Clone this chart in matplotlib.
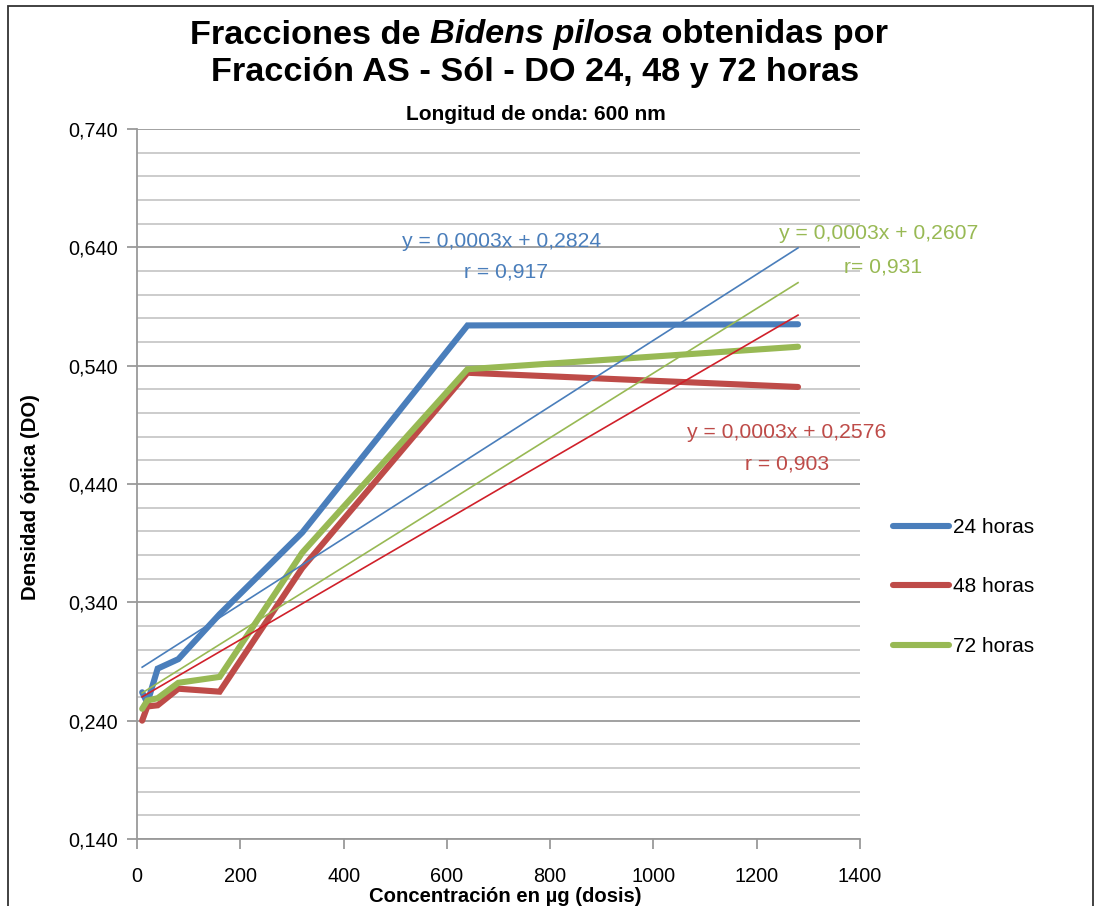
import matplotlib
matplotlib.use("Agg")
import matplotlib.pyplot as plt
import numpy as np
from matplotlib.patches import Rectangle

plt.rcParams['font.family'] = ['Liberation Sans', 'DejaVu Sans']

# ---- data ----
dosis = [10, 20, 40, 80, 160, 320, 640, 1280]
do_24 = [0.264, 0.255, 0.284, 0.292, 0.330, 0.399, 0.574, 0.575]
do_48 = [0.240, 0.252, 0.253, 0.267, 0.2645, 0.369, 0.534, 0.522]
do_72 = [0.250, 0.257, 0.259, 0.272, 0.277, 0.382, 0.537, 0.556]
series_labels = ['24 horas', '48 horas', '72 horas']
trend_intercepts = [0.2824, 0.2576, 0.2607]
trend_slopes = [0.000279, 0.000254, 0.000273]
eq_texts = ['y = 0,0003x + 0,2824', 'y = 0,0003x + 0,2576', 'y = 0,0003x + 0,2607']
r_texts = ['r = 0,917', 'r = 0,903', 'r= 0,931']
x_ticks = [0, 200, 400, 600, 800, 1000, 1200, 1400]
y_ticks = [0.140, 0.240, 0.340, 0.440, 0.540, 0.640, 0.740]
y_tick_labels = ['0,140', '0,240', '0,340', '0,440', '0,540', '0,640', '0,740']

line_colors = ['#4A7EBB', '#BE4B48', '#98B954']
trend_colors = ['#4A7EBB', '#D0202A', '#98B954']

W, H = 1097, 906
fig = plt.figure(figsize=(W / 100, H / 100), dpi=100)
ax = fig.add_axes([137 / W, 1 - 839 / H, (860 - 137) / W, (839 - 129) / H])

# gridlines
for v in np.arange(0.14, 0.7401, 0.02):
    major = abs(((v - 0.14) / 0.1) - round((v - 0.14) / 0.1)) < 1e-6
    ax.axhline(v, color='#9A9A9A' if major else '#C8C8C8', lw=1.3, zorder=0)

# trendlines
xt = np.array([dosis[0], dosis[-1]])
for b, m, c in zip(trend_intercepts, trend_slopes, trend_colors):
    ax.plot(xt, b + m * xt, color=c, lw=1.2, zorder=3)

# data lines
for ys, c, lab in zip([do_24, do_48, do_72], line_colors, series_labels):
    ax.plot(dosis, ys, color=c, lw=4.4, solid_capstyle='round',
            solid_joinstyle='miter', label=lab, zorder=2)

ax.set_xlim(0, 1400)
ax.set_ylim(0.14, 0.74)
ax.set_xticks(x_ticks)
ax.set_xticklabels([str(t) for t in x_ticks])
ax.set_yticks(y_ticks)
ax.set_yticklabels(y_tick_labels)
for s in ['top', 'right']:
    ax.spines[s].set_visible(False)
for s in ['left', 'bottom']:
    ax.spines[s].set_color('#9A9A9A')
    ax.spines[s].set_linewidth(1.3)
ax.tick_params(axis='both', direction='out', length=7, width=1.3,
               color='#9A9A9A', labelsize=14.3, labelcolor='black')
ax.tick_params(axis='x', pad=13)
ax.tick_params(axis='y', pad=7)

# equations
eq_pos = [(705, 0.6453), (1258, 0.4839), (1437, 0.6513)]
r_pos = [(714, 0.6191), (1258, 0.4568), (1445, 0.6233)]
for t, r, (ex, ey), (rx, ry), c in zip(eq_texts, r_texts, eq_pos, r_pos, line_colors):
    ax.text(ex, ey, t, color=c, fontsize=15.2, ha='center', va='center', clip_on=False)
    ax.text(rx, ry, r, color=c, fontsize=15.2, ha='center', va='center', clip_on=False)

ax.set_xlabel('Concentración en µg (dosis)', fontsize=14.6, fontweight='bold')
ax.xaxis.set_label_coords((505 - 137) / 723, -(886.5 - 839) / 710)
ax.set_ylabel('Densidad óptica (DO)', fontsize=14.6, fontweight='bold')
ax.yaxis.set_label_coords((40 - 137) / 723, (839 - 497) / 710)

# legend
leg = fig.legend(loc='center left', bbox_to_anchor=(893 / W, 1 - 587 / H),
                 frameon=False, fontsize=15, handlelength=2.7, handletextpad=0.2,
                 labelspacing=1.95, borderpad=0, borderaxespad=0)

# title (mixed italic)
fig.canvas.draw()
renderer = fig.canvas.get_renderer()
parts = [('Fracciones de ', 'normal'), ('Bidens pilosa', 'italic'), (' obtenidas por', 'normal')]
fs_title = 24.7
texts = []
for s, st in parts:
    t = fig.text(0, 1 - 35 / H, s, fontsize=fs_title, fontweight='bold', fontstyle=st,
                 va='center', ha='left')
    texts.append(t)
widths = [t.get_window_extent(renderer).width for t in texts]
total = sum(widths)
x0 = 539 - total / 2
for t, w in zip(texts, widths):
    t.set_x(x0 / W)
    x0 += w
fig.text(535 / W, 1 - 73 / H, 'Fracción AS - Sól - DO 24, 48 y 72 horas', fontsize=fs_title,
         fontweight='bold', ha='center', va='center')
fig.text(536 / W, 1 - 115 / H, 'Longitud de onda: 600 nm', fontsize=15,
         fontweight='bold', ha='center', va='center')

# outer border
fig.patches.append(Rectangle((8 / W, -0.05), (1093 - 8) / W, 1.05 - 6 / H,
                             transform=fig.transFigure, fill=False,
                             edgecolor='#333333', lw=1.3))

fig.savefig('out.png', dpi=100)
